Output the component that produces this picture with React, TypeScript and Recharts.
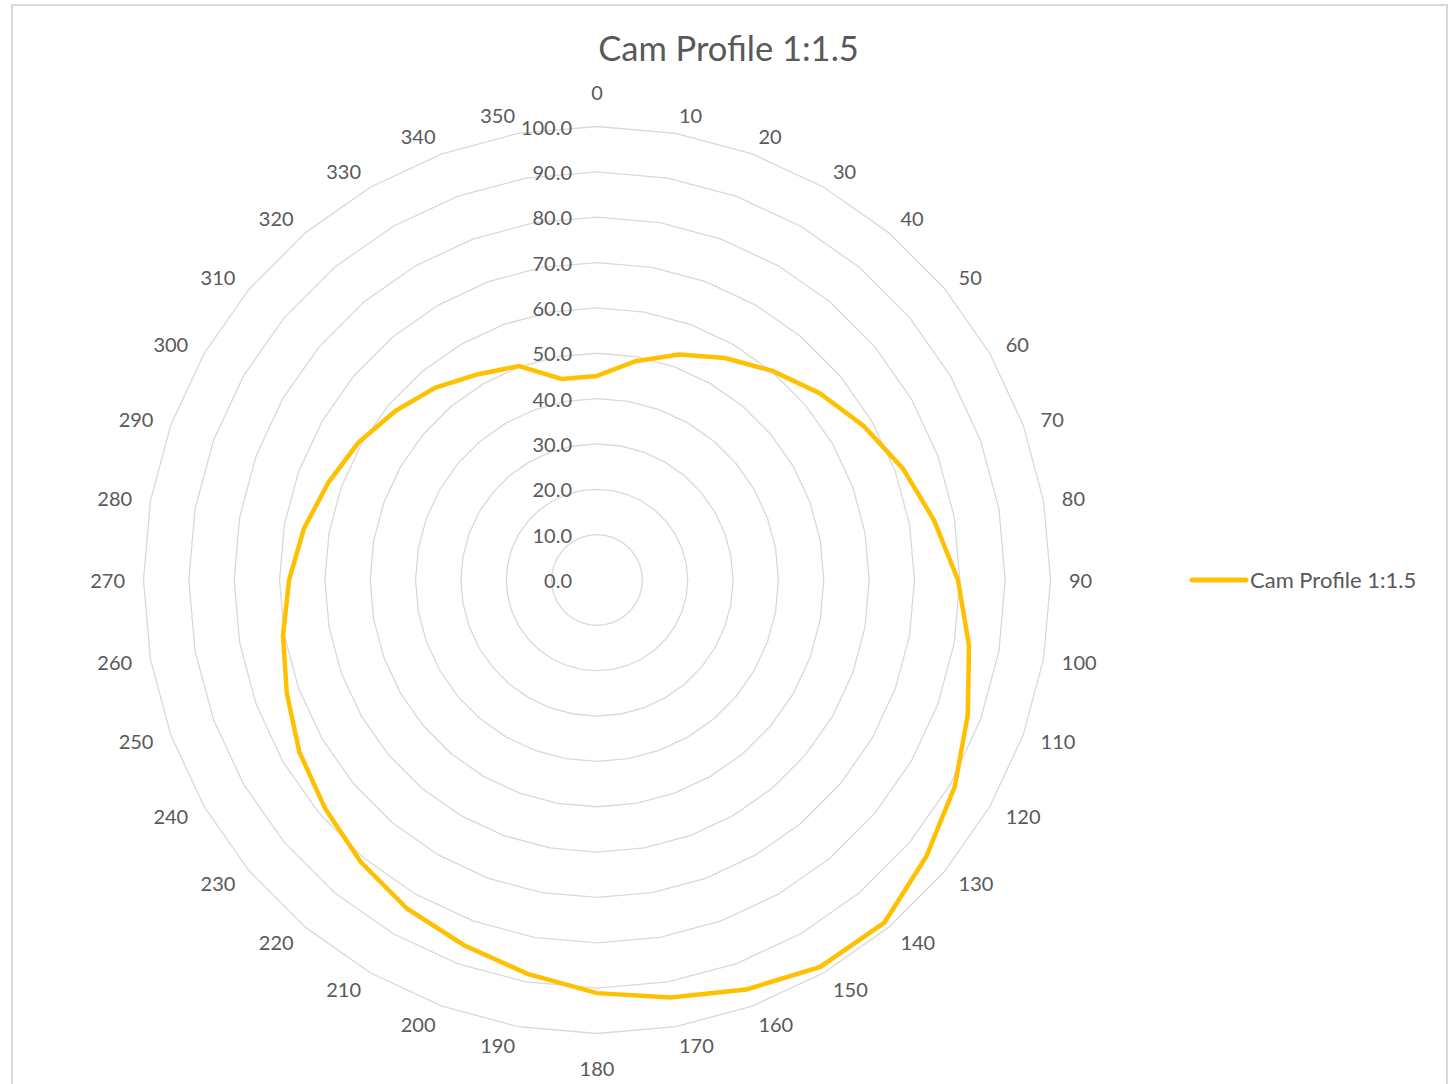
import { RadarChart, PolarGrid, PolarAngleAxis, PolarRadiusAxis, Radar, Legend } from 'recharts';

// Cam angle in degrees (categories)
const angles = [0, 10, 20, 30, 40, 50, 60, 70, 80, 90, 100, 110, 120, 130, 140, 150, 160, 170,
  180, 190, 200, 210, 220, 230, 240, 250, 260, 270, 280, 290, 300, 310, 320, 330, 340, 350];

// Cam Profile 1:1.5 lift values
const camProfile = [45.0, 49.0, 52.9, 56.5, 60.2, 64.1, 67.9, 71.8, 75.5, 79.6, 83.3, 87.0,
  91.1, 94.8, 98.6, 98.5, 96.1, 93.5, 91.1, 88.2, 85.7, 83.7, 81.1, 78.3, 75.8, 72.8,
  70.3, 67.9, 65.6, 63.0, 60.7, 58.0, 55.4, 52.4, 50.2, 45.0];

const radiusTicks = [0, 10, 20, 30, 40, 50, 60, 70, 80, 90, 100];

const data = angles.map((a, i) => ({ angle: String(a), value: camProfile[i] }));

const FONT = 'Lato, "Open Sans", sans-serif';
const TEXT = '#595959';
const CX = 597;
const CY = 580;
const OUTER = 453.5;

// excel-ish label placement: side labels anchored at their inner edge, top/bottom centred
const AngleTick = (props: any) => {
  const { x, y, payload } = props;
  const a = Math.atan2(CY - y, x - CX);
  const h = Math.cos(a);
  const v = Math.sin(a);
  let tx = CX;
  let ty = CY;
  let anchor: 'start' | 'middle' | 'end' = 'middle';
  if (Math.abs(h) < 0.01) {
    ty = v > 0 ? CY - 488 : CY + 487.5;
  } else {
    tx = CX + 472 * h;
    ty = CY - 472 * v;
    anchor = h > 0 ? 'start' : 'end';
  }
  return (
    <text x={tx} y={ty} textAnchor={anchor} dominantBaseline="central" fill={TEXT} fontSize={20} fontFamily={FONT}>
      {payload.value}
    </text>
  );
};

const RadiusTick = (props: any) => {
  const { x, y, payload } = props;
  return (
    <text x={x - 25} y={y} textAnchor="end" dominantBaseline="central" fill={TEXT} fontSize={20} fontFamily={FONT}>
      {Number(payload.value).toFixed(1)}
    </text>
  );
};

const renderLegend = () => (
  <div style={{ display: 'flex', alignItems: 'center', fontFamily: FONT, fontSize: 22, color: TEXT }}>
    <svg width={61} height={10}>
      <line x1={3} y1={5} x2={57} y2={5} stroke="#FFC000" strokeWidth={5} strokeLinecap="round" />
    </svg>
    <span>Cam Profile 1:1.5</span>
  </div>
);

export default function App() {
  return (
    <div style={{ position: 'absolute', left: 0, top: 0, width: 1448, height: 1084, background: '#fff', overflow: 'hidden' }}>
      <div
        style={{
          position: 'absolute',
          left: 11,
          top: 4,
          width: 1433,
          height: 1100,
          border: '2px solid #d9d9d9',
        }}
      />
      <div
        style={{
          position: 'absolute',
          left: 0,
          top: 28,
          width: 1457,
          textAlign: 'center',
          fontFamily: FONT,
          fontSize: 34.5,
          color: TEXT,
          lineHeight: '40px',
        }}
      >
        Cam Profile 1:1.5
      </div>
      <div style={{ position: 'absolute', left: 0, top: 0 }}>
        <RadarChart width={1448} height={1084} data={data} cx={CX} cy={CY} outerRadius={OUTER}>
          <PolarGrid gridType="polygon" radialLines={false} stroke="#d9d9d9" strokeWidth={1.3} />
          <PolarAngleAxis dataKey="angle" tick={AngleTick} tickLine={false} axisLine={false} />
          <PolarRadiusAxis
            angle={90}
            domain={[0, 100]}
            ticks={radiusTicks as any}
            tickCount={11}
            axisLine={false}
            tickLine={false}
            tick={RadiusTick}
          />
          <Radar
            name="Cam Profile 1:1.5"
            dataKey="value"
            stroke="#FFC000"
            strokeWidth={4.5}
            fill="none"
            fillOpacity={0}
            dot={false}
            isAnimationActive={false}
          />
          <Legend
            content={renderLegend}
            wrapperStyle={{ position: 'absolute', left: 1189, top: 566, width: 250 }}
          />
        </RadarChart>
      </div>
    </div>
  );
}
